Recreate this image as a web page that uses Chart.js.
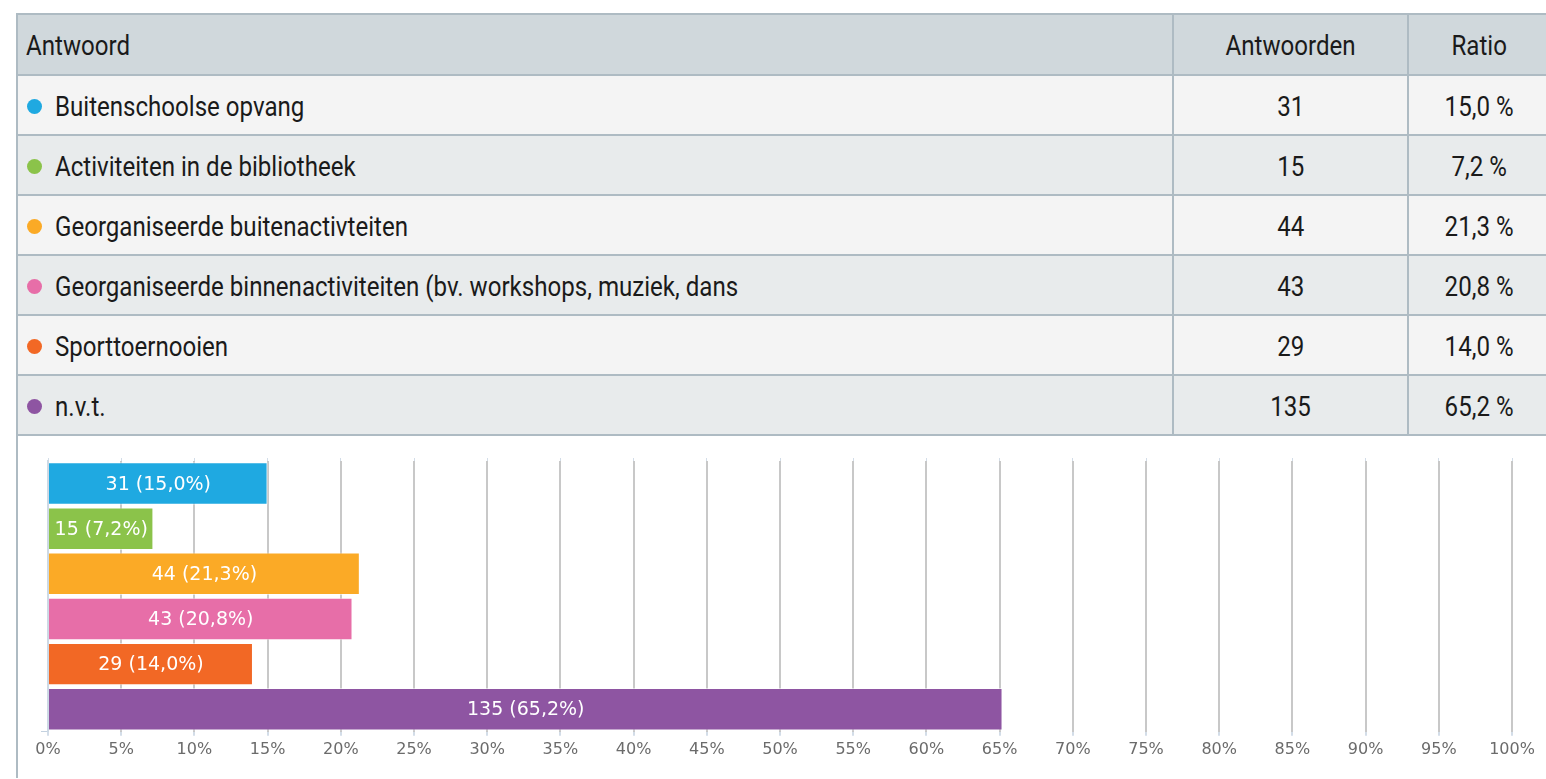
<!DOCTYPE html>
<html>
<head>
<meta charset="utf-8">
<script src="https://cdn.jsdelivr.net/npm/chart.js@4/dist/chart.umd.min.js"></script>
<style>
  body { margin: 0; background: #fff; overflow: hidden; width: 1546px; height: 779px; }
  .wrap { position: absolute; left: 16px; top: 13px; width: 1535px; }
  table { border-collapse: collapse; width: 100%; table-layout: fixed;
    font-family: Roboto, "Noto Sans", sans-serif; font-size: 28px; color: #1a1a1a; }
  td, th { border: 2px solid #aebbc3; height: 58px; padding: 0 8px; font-weight: normal; }
  th { background: #d0d8dc; height: 59px; }
  tr.odd td { background: #f4f4f4; }
  tr.even td { background: #e8ebec; }
  .c1 { text-align: left; }
  .c2, .c3 { text-align: center; }
  .txt { display: inline-block; transform: scaleX(0.86); vertical-align: middle; }
  .c1 .txt { transform-origin: left center; }
  .c2 .txt, .c3 .txt { transform-origin: center center; }
  .dot { display: inline-block; width: 15px; height: 15px; border-radius: 50%;
    margin: 0 13px 0 1px; vertical-align: middle; }
  .chart-box { position: relative; height: 342px; border-left: 2px solid #aebbc3; }
</style>
</head>
<body>
<div class="wrap">
  <table id="tbl">
    <colgroup><col style="width:1156px"><col style="width:235px"><col></colgroup>
    <thead><tr>
      <th class="c1"><span class="txt">Antwoord</span></th>
      <th class="c2"><span class="txt">Antwoorden</span></th>
      <th class="c3"><span class="txt">Ratio</span></th>
    </tr></thead>
    <tbody></tbody>
  </table>
  <div class="chart-box"><canvas id="myChart"></canvas></div>
</div>
<script>
const answers = [
  "Buitenschoolse opvang",
  "Activiteiten in de bibliotheek",
  "Georganiseerde buitenactivteiten",
  "Georganiseerde binnenactiviteiten (bv. workshops, muziek, dans",
  "Sporttoernooien",
  "n.v.t."
];
const counts = [31, 15, 44, 43, 29, 135];
const ratios = [15.0, 7.2, 21.3, 20.8, 14.0, 65.2];
const colors = ["#1fa9e1", "#8bc34a", "#fbaa26", "#e76ea8", "#f26825", "#8e55a2"];
const xTicks = [0, 5, 10, 15, 20, 25, 30, 35, 40, 45, 50, 55, 60, 65, 70, 75, 80, 85, 90, 95, 100];

const fmt = (v) => v.toFixed(1).replace(".", ",");

// fill the table rows
const tbody = document.querySelector("#tbl tbody");
answers.forEach((a, i) => {
  const tr = document.createElement("tr");
  tr.className = i % 2 === 0 ? "odd" : "even";
  tr.innerHTML =
    '<td class="c1"><span class="dot" style="background:' + colors[i] + '"></span><span class="txt">' + a + "</span></td>" +
    '<td class="c2"><span class="txt">' + counts[i] + "</span></td>" +
    '<td class="c3"><span class="txt">' + fmt(ratios[i]) + " %</span></td>";
  tbody.appendChild(tr);
});

// white "count (ratio%)" text centred in each bar
const barLabels = {
  id: "barLabels",
  afterDatasetsDraw(chart) {
    const ctx = chart.ctx;
    const meta = chart.getDatasetMeta(0);
    ctx.save();
    ctx.font = '19px "DejaVu Sans", sans-serif';
    ctx.fillStyle = "#ffffff";
    ctx.textAlign = "center";
    ctx.textBaseline = "middle";
    meta.data.forEach((bar, i) => {
      const cx = (bar.base + bar.x) / 2;
      ctx.fillText(counts[i] + " (" + fmt(ratios[i]) + "%)", cx, bar.y + 1);
    });
    ctx.restore();
  }
};

const ctx = document.getElementById("myChart").getContext("2d");
const myChart = new Chart(ctx, {
  type: "bar",
  data: {
    labels: answers,
    datasets: [{
      data: ratios,
      backgroundColor: colors,
      borderColor: "rgba(255,255,255,0.55)",
      borderWidth: 1,
      barPercentage: 0.94,
      categoryPercentage: 1
    }]
  },
  options: {
    indexAxis: "y",
    responsive: true,
    maintainAspectRatio: false,
    animation: false,
    layout: { padding: { left: 23, right: 39, top: 22, bottom: 15 } },
    plugins: { legend: { display: false }, tooltip: { enabled: false } },
    scales: {
      x: {
        min: 0, max: 100,
        afterBuildTicks: (s) => { s.ticks = xTicks.map(v => ({ value: v })); },
        border: { display: false },
        grid: {
          color: (c) => c.tick && c.tick.value === 0 ? "rgba(0,0,0,0)" : "#c8c8c8",
          lineWidth: 2,
          tickColor: "#d3dde8",
          tickLength: 4
        },
        ticks: {
          padding: 4,
          color: "#6b6b6b",
          font: { family: '"DejaVu Sans", sans-serif', size: 16 },
          callback: (v) => v + "%"
        }
      },
      x2: {
        position: "top",
        min: 0, max: 100,
        afterBuildTicks: (s) => { s.ticks = xTicks.map(v => ({ value: v })); },
        border: { display: false },
        grid: { drawOnChartArea: false, tickColor: "#d3dde8", tickLength: 3 },
        ticks: { display: false }
      },
      y: { display: false, grid: { offset: true } },
      y2: {
        position: "left",
        min: 0, max: 6, reverse: true,
        afterBuildTicks: (s) => { s.ticks = [0.5, 3, 5.5].map(v => ({ value: v })); },
        border: { display: true, color: "#cdd9e5", width: 2 },
        grid: { drawOnChartArea: false, tickColor: "#c3d1df", tickLength: 7 },
        ticks: { display: false }
      }
    }
  },
  plugins: [barLabels]
});
</script>
</body>
</html>
